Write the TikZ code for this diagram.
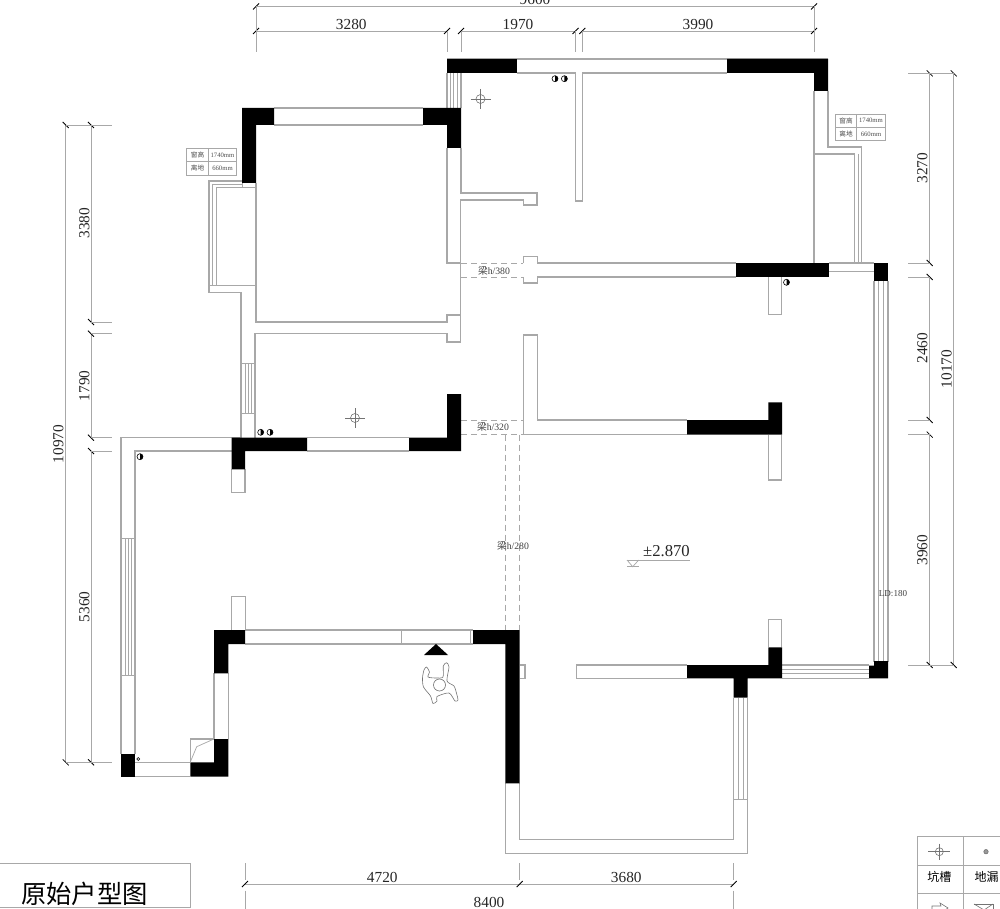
\documentclass[tikz,border=0pt]{standalone}
\usepackage{fontspec}
\setmainfont{Liberation Serif}
\newfontfamily\cjk{Noto Sans CJK SC}
\definecolor{wallgray}{gray}{0.66}
\tikzset{
    wall/.style={draw=wallgray, line width=0.8pt},
    thinwall/.style={draw=wallgray, line width=0.55pt},
    pillar/.style={fill=black},
    beam/.style={draw=wallgray, line width=0.7pt, dash pattern=on 4.5pt off 3pt},
    dimline/.style={draw=wallgray, line width=0.7pt},
    dimtick/.style={draw=black, line width=0.6pt},
    dimtext/.style={font=\fontsize{11.5}{12}\selectfont, inner sep=0pt, text=black!85},
    beamtext/.style={font=\fontsize{7.3}{8}\selectfont, inner sep=0pt, text=black!75},
    smalltext/.style={font=\fontsize{5}{6}\selectfont, inner sep=0pt, text=black!70},
    symbolline/.style={draw=black!55, line width=0.45pt}
}
\begin{document}
\begin{tikzpicture}[x=0.75pt, y=-0.75pt]
    \useasboundingbox (0,0) rectangle (1000,909);
    \clip (0,0) rectangle (1000,909);

    % Upper right rooms
    \draw[wall] (447,59) -- (828,59);
    \draw[wall] (517,73) -- (575.5,73) -- (575.5,201) -- (582.3,201) -- (582.3,73) -- (727,73);
    \draw[wall] (814,91) -- (814,263);
    \draw[wall] (828,91) -- (828,147) -- (861.7,147) -- (861.7,263);
    \draw[wall] (814,154) -- (854.7,154) -- (854.7,263);
    \draw[thinwall] (858,154) -- (858,263);
    \foreach \xpos in {447,461} {\draw[wall] (\xpos,73) -- (\xpos,108);}
    \foreach \xpos in {450.3,453.7,457} {\draw[thinwall] (\xpos,73) -- (\xpos,108);}

    % Upper left bedroom
    \draw[wall] (274,108) -- (423,108);
    \draw[wall] (274,125) -- (423,125);
    \draw[wall] (256,183) -- (256,322) -- (447,322) -- (447,315) -- (460.5,315);
    \draw[wall] (447,148) -- (447,263) -- (461,263);
    \draw[wall] (461,148) -- (461,193) -- (537,193) -- (537,205) -- (523.3,205) -- (523.3,200) -- (460.5,200) -- (460.5,342) -- (447,342) -- (447,333.7) -- (255,333.7) -- (255,437.5);
    \draw[wall] (242,181) -- (209,181) -- (209,292.7) -- (241,292.7) -- (241,437.5);
    \draw[thinwall] (242,184.5) -- (212,184.5) -- (212,285.7);
    \draw[thinwall] (256,187.7) -- (216.3,187.7) -- (216.3,285.7);
    \draw[thinwall] (242,183) -- (242,187.7);
    \draw[wall] (209,285.7) -- (256,285.7);
    \draw[thinwall] (241,363.3) -- (255,363.3);
    \draw[thinwall] (241,413.3) -- (255,413.3);
    \foreach \xpos in {245,248.3,251.7} {\draw[thinwall] (\xpos,363.3) -- (\xpos,413.3);}

    % Beams
    \foreach \ypos in {263,277,420,434.6} {\draw[beam] (461,\ypos) -- (523.3,\ypos);}
    \foreach \xpos in {505.3,519.7} {\draw[beam] (\xpos,434.6) -- (\xpos,630);}

    % Middle walls
    \draw[wall] (523.3,263) -- (523.3,256.7) -- (537.3,256.7) -- (537.3,263) -- (736,263);
    \draw[wall] (523.3,277) -- (523.3,283) -- (537.3,283) -- (537.3,277) -- (736,277);
    \draw[wall] (829,263) -- (874,263);
    \draw[wall] (829,271.5) -- (874,271.5);
    \draw[wall] (768.3,277) -- (768.3,314.3) -- (781.7,314.3) -- (781.7,277);
    \draw[wall] (687,420) -- (537.3,420) -- (537.3,335) -- (523.3,335) -- (523.3,434.6) -- (687,434.6);
    \draw[wall] (768.3,434.6) -- (768.3,480) -- (781.7,480) -- (781.7,434.6);

    % Right windows
    \foreach \xpos in {874,888} {\draw[wall] (\xpos,281) -- (\xpos,662);}
    \foreach \xpos in {878.3,883.3} {\draw[thinwall] (\xpos,281) -- (\xpos,662);}
    \foreach \ypos in {665,678.3} {\draw[wall] (782,\ypos) -- (869,\ypos);}
    \foreach \ypos in {669.3,673.5} {\draw[thinwall] (782,\ypos) -- (869,\ypos);}
    \draw[wall] (768.3,647) -- (768.3,619.3) -- (781.7,619.3) -- (781.7,647);
    \draw[wall] (687,665) -- (576.3,665) -- (576.3,678.3) -- (687,678.3);
    \draw[wall] (519.7,665) -- (525,665) -- (525,678.3) -- (519.7,678.3);

    % Lower balcony
    \draw[wall] (733.7,697.5) -- (733.7,839.3) -- (519.7,839.3) -- (519.7,783);
    \draw[wall] (747.7,697.5) -- (747.7,853.7) -- (505.3,853.7) -- (505.3,783);
    \draw[thinwall] (733.7,799) -- (747.7,799);
    \foreach \xpos in {738.3,743} {\draw[thinwall] (\xpos,697.5) -- (\xpos,799);}

    % Living room, left side
    \draw[wall] (307,437.5) -- (409,437.5);
    \draw[wall] (241,437.5) -- (121,437.5) -- (121,754);
    \draw[wall] (307,451) -- (409,451);
    \draw[wall] (232,451) -- (135,451) -- (135,754);
    \draw[wall] (231.7,469) -- (231.7,492.3) -- (245,492.3) -- (245,469);
    \foreach \ypos in {538.3,675} {\draw[thinwall] (121,\ypos) -- (135,\ypos);}
    \foreach \xpos in {125,128.3,131.7} {\draw[thinwall] (\xpos,538.3) -- (\xpos,675);}
    \foreach \ypos in {762.3,776.7} {\draw[wall] (135,\ypos) -- (190.3,\ypos);}
    \draw[wall] (214,739) -- (214,673);
    \draw[wall] (228.3,739) -- (228.3,673);
    \draw[wall] (231.7,630) -- (231.7,596.7) -- (245.3,596.7) -- (245.3,630);
    \draw[wall] (190.3,762.3) -- (190.3,739) -- (214,739);
    \draw[thinwall] (190.3,762) -- (196.7,746.7) -- (214,739);
    \foreach \ypos in {630,644} {\draw[wall] (245,\ypos) -- (473,\ypos);}
    \foreach \xpos in {401.3,470.7} {\draw[thinwall] (\xpos,630) -- (\xpos,644);}

    % Bearing walls
    \fill[pillar] (447,59) rectangle (517,73);
    \fill[pillar] (727,59) -- (828,59) -- (828,91) -- (814,91) -- (814,73) -- (727,73) -- cycle;
    \fill[pillar] (242,108) -- (274,108) -- (274,125) -- (256,125) -- (256,183) -- (242,183) -- cycle;
    \fill[pillar] (423,108) -- (461,108) -- (461,148) -- (447,148) -- (447,125) -- (423,125) -- cycle;
    \fill[pillar] (736,263) rectangle (829,277);
    \fill[pillar] (874,263) rectangle (888,281);
    \fill[pillar] (687,420) -- (768.3,420) -- (768.3,402.3) -- (782,402.3) -- (782,434.6) -- (687,434.6) -- cycle;
    \fill[pillar] (447,394) -- (461,394) -- (461,451) -- (409,451) -- (409,437.5) -- (447,437.5) -- cycle;
    \fill[pillar] (231.7,437.5) -- (307,437.5) -- (307,451) -- (245,451) -- (245,469.3) -- (231.7,469.3) -- cycle;
    \fill[pillar] (214,630) -- (245,630) -- (245,644) -- (228.3,644) -- (228.3,673.3) -- (214,673.3) -- cycle;
    \fill[pillar] (121,753.7) rectangle (135,776.7);
    \fill[pillar] (190.3,762.3) -- (214,762.3) -- (214,739) -- (228.3,739) -- (228.3,776.7) -- (190.3,776.7) -- cycle;
    \fill[pillar] (473,630) -- (519.7,630) -- (519.7,783.3) -- (505.3,783.3) -- (505.3,644) -- (473,644) -- cycle;
    \fill[pillar] (687,665) -- (768.3,665) -- (768.3,647.3) -- (782,647.3) -- (782,678.3) -- (747.7,678.3) -- (747.7,697.7) -- (733.7,697.7) -- (733.7,678.3) -- (687,678.3) -- cycle;
    \fill[pillar] (874,661) -- (888,661) -- (888,678.3) -- (869,678.3) -- (869,665.5) -- (874,665.5) -- cycle;

    % Dimensions, top
    \draw[dimline] (256,6.5) -- (814,6.5);
    \foreach \xa/\xb in {256/447,461/575.5,582.3/814} {
        \draw[dimline] (\xa,31) -- (\xb,31);
        \draw[dimtick] (\xa-3,34) -- (\xa+3,28);
        \draw[dimtick] (\xb-3,34) -- (\xb+3,28);
    }
    \foreach \xpos in {256,814} {\draw[dimtick] (\xpos-3,9.5) -- (\xpos+3,3.5);}
    \draw[dimline] (256,6.5) -- (256,52);
    \draw[dimline] (814,6.5) -- (814,52);
    \foreach \xpos in {447,461,575.5,582.3} {\draw[dimline] (\xpos,31) -- (\xpos,52);}
    \node[dimtext] (top9600) at (535,-0.5) {9600};
    \node[dimtext] (top3280) at (351.3,24) {3280};
    \node[dimtext] (top1970) at (518,24) {1970};
    \node[dimtext] (top3990) at (698,24) {3990};

    % Dimensions, left
    \draw[dimline] (65.7,125) -- (65.7,762.3);
    \foreach \ya/\yb in {125/322,333.7/437.7,451/762.3} {
        \draw[dimline] (91,\ya) -- (91,\yb);
        \draw[dimtick] (88,\ya-3) -- (94,\ya+3);
        \draw[dimtick] (88,\yb-3) -- (94,\yb+3);
    }
    \foreach \ypos in {125,762.3} {
        \draw[dimtick] (62.7,\ypos-3) -- (68.7,\ypos+3);
        \draw[dimline] (65.7,\ypos) -- (112,\ypos);
    }
    \foreach \ypos in {322,333.7,437.7,451} {\draw[dimline] (91,\ypos) -- (112,\ypos);}
    \node[dimtext, rotate=90] (left3380) at (84.3,223.3) {3380};
    \node[dimtext, rotate=90] (left1790) at (84.3,386) {1790};
    \node[dimtext, rotate=90] (left5360) at (84.3,606.7) {5360};
    \node[dimtext, rotate=90] (left10970) at (58.3,444) {10970};

    % Dimensions, right
    \draw[dimline] (953.7,73.3) -- (953.7,665);
    \foreach \ya/\yb in {73.3/263,277/420,434.6/665} {
        \draw[dimline] (929.7,\ya) -- (929.7,\yb);
        \draw[dimtick] (926.7,\ya-3) -- (932.7,\ya+3);
        \draw[dimtick] (926.7,\yb-3) -- (932.7,\yb+3);
    }
    \foreach \ypos in {73.3,665} {
        \draw[dimtick] (950.7,\ypos-3) -- (956.7,\ypos+3);
        \draw[dimline] (908,\ypos) -- (953.7,\ypos);
    }
    \foreach \ypos in {263,277,420,434.6} {\draw[dimline] (908,\ypos) -- (929.7,\ypos);}
    \node[dimtext, rotate=90] (right3270) at (922.3,168.3) {3270};
    \node[dimtext, rotate=90] (right2460) at (922.3,348.3) {2460};
    \node[dimtext, rotate=90] (right3960) at (922.3,550) {3960};
    \node[dimtext, rotate=90] (right10170) at (946.7,369) {10170};

    % Dimensions, bottom
    \draw[dimline] (245,884) -- (733.7,884);
    \foreach \xpos in {245,519.7,733.7} {
        \draw[dimline] (\xpos,863.3) -- (\xpos,880);
        \draw[dimtick] (\xpos-3,887) -- (\xpos+3,881);
    }
    \foreach \xpos in {245,733.7} {\draw[dimline] (\xpos,890.7) -- (\xpos,909);}
    \node[dimtext] (bot4720) at (382.3,877.7) {4720};
    \node[dimtext] (bot3680) at (626.3,877.7) {3680};
    \node[dimtext] (bot8400) at (489,902.5) {8400};

    % Window tags
    \draw[thinwall] (186.7,148.3) rectangle (236.7,175);
    \draw[thinwall] (186.7,161.7) -- (236.7,161.7);
    \draw[thinwall] (208.3,148.3) -- (208.3,175);
    \node[smalltext] (tagLa) at (197.5,155) {\cjk 窗高};
    \node[smalltext] (tagLb) at (222.5,155) {1740mm};
    \node[smalltext] (tagLc) at (197.5,168.3) {\cjk 离地};
    \node[smalltext] (tagLd) at (222.5,168.3) {660mm};
    \draw[thinwall] (835.3,114) rectangle (885.7,140.7);
    \draw[thinwall] (835.3,127.3) -- (885.7,127.3);
    \draw[thinwall] (856.7,114) -- (856.7,140.7);
    \node[smalltext] (tagRa) at (846,120.7) {\cjk 窗高};
    \node[smalltext] (tagRb) at (871,120.7) {1740mm};
    \node[smalltext] (tagRc) at (846,134) {\cjk 离地};
    \node[smalltext] (tagRd) at (871,134) {660mm};

    % Beam labels
    \node[beamtext] (beam380) at (494,270.7) {{\cjk 梁}h/380};
    \node[beamtext] (beam320) at (493,427) {{\cjk 梁}h/320};
    \node[beamtext] (beam280) at (513,546) {{\cjk 梁}h/280};
    \node[beamtext, font=\fontsize{6.8}{8}\selectfont] (ld180) at (893,593.7) {LD:180};

    % Level mark
    \node[dimtext, font=\fontsize{12.5}{14}\selectfont] (level) at (666.5,551.5) {±2.870};
    \draw[thinwall] (627,560) -- (690,560);
    \draw[thinwall] (627,560) -- (632.7,566.7) -- (638.7,560);
    \draw[thinwall] (627,566.7) -- (638.7,566.7);

    % Lamp points
    \foreach \xpos/\ypos in {480.5/99,355/418} {
        \draw[symbolline] (\xpos,\ypos) circle (4.5);
        \draw[symbolline] (\xpos-10,\ypos) -- (\xpos+10,\ypos);
        \draw[symbolline] (\xpos,\ypos-10) -- (\xpos,\ypos+10);
    }
    \foreach \xpos/\ypos in {555/78.7,564.4/78.7,260.7/432.3,270/432.3,786.5/282.3,140/456.7} {
        \draw[black, line width=0.45pt] (\xpos,\ypos) circle (3);
        \fill (\xpos,\ypos-3) arc[start angle=-90, end angle=90, radius=3];
    }
    \draw[black, line width=0.45pt] (138.3,759) circle (1.5);

    % Entrance
    \fill (424,655) -- (436,644) -- (448,655) -- cycle;
    \draw[symbolline] plot[smooth cycle, tension=0.45] coordinates {(424,670) (426.5,667) (429.5,672) (428,677) (436,678) (443,677) (443.3,666) (446.5,662.7) (449,667) (447,681) (454,686) (456.7,694) (458,700) (455,701) (449,693) (437,696.5) (437,701) (433,703.5) (430.5,696) (423.5,687) (422.5,678)};
    \draw[symbolline] (439.5,685) circle (6);

    % Title
    \draw[wall] (-2,863.5) -- (190.3,863.5) -- (190.3,907.5) -- (-2,907.5);
    \node[font=\fontsize{19}{20}\selectfont\cjk, inner sep=0pt] (title) at (84.5,893.5) {原始户型图};

    % Legend
    \draw[wall] (1002,836.7) -- (917.3,836.7) -- (917.3,909);
    \draw[wall] (963.3,836.7) -- (963.3,909);
    \draw[wall] (917.3,865.3) -- (1002,865.3);
    \draw[wall] (917.3,893.3) -- (1002,893.3);
    \draw[symbolline] (939.3,851.7) circle (4);
    \draw[symbolline] (928.3,851.7) -- (950.3,851.7);
    \draw[symbolline] (939.3,843.7) -- (939.3,859.7);
    \draw[symbolline, fill=black!40] (986,851.7) circle (2.2);
    \node[font=\fontsize{9}{10}\selectfont\cjk, inner sep=0pt] (pit) at (939.3,877) {坑槽};
    \node[font=\fontsize{9}{10}\selectfont\cjk, inner sep=0pt] (drain) at (986.5,877) {地漏};
    \draw[symbolline] (932,910) -- (932,906) -- (941,906) -- (940,903) -- (948,908) -- (945,910);
    \draw[symbolline] (974,904) -- (993,904) -- (993,910);
    \draw[symbolline] (974,904) -- (984,910) -- (993,904);
\end{tikzpicture}
\end{document}
